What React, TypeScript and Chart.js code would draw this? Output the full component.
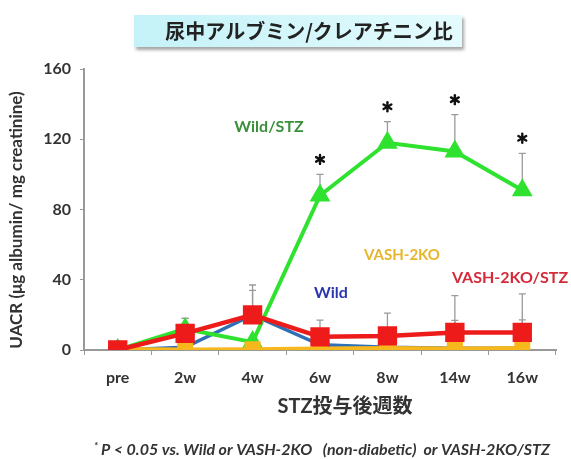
import React, { useEffect, useRef } from "react";
import { Chart, registerables } from "chart.js";

Chart.register(...registerables);

const weeks = ["pre", "2w", "4w", "6w", "8w", "14w", "16w"];
const yTicks = [0, 40, 80, 120, 160];

const wildStz = [0, 12, 4.5, 88, 118, 113, 91];
const wildStzErr = [0, 6, 0, 12, 12, 21, 21];
const vashStz = [0, 9.5, 20, 7.5, 8, 10, 10];
const vashStzErr = [0, 8.5, 17, 9.5, 13, 21, 22];
const wild = [0, 1.5, 20, 3, 1.5, 1, 1];
const wildErr = [0, 0, 14, 4, 0, 0, 0];
const vash = [0.5, 0.3, 0.4, 0.8, 1.2, 0.9, 1.1];
const vashErr = [0, 0, 0, 0, 0, 16, 16];
const significant = [false, false, false, true, true, true, true];

const LAT = "Lato, 'Noto Sans CJK JP', sans-serif";
const JP = "'Noto Sans CJK JP', sans-serif";

const errorBars = {
  id: "errorBars",
  beforeDatasetsDraw(chart: any) {
    const ctx = chart.ctx;
    const y = chart.scales.y;
    ctx.save();
    ctx.strokeStyle = "#9a9a9a";
    ctx.lineWidth = 1.3;
    chart.data.datasets.forEach((ds: any, di: number) => {
      const meta = chart.getDatasetMeta(di);
      const errs = ds.errors || [];
      meta.data.forEach((pt: any, i: number) => {
        const e = errs[i];
        if (!e) return;
        const top = y.getPixelForValue(ds.data[i] + e);
        ctx.beginPath();
        ctx.moveTo(pt.x, pt.y);
        ctx.lineTo(pt.x, top);
        ctx.moveTo(pt.x - 3.5, top);
        ctx.lineTo(pt.x + 3.5, top);
        ctx.stroke();
      });
    });
    ctx.restore();
  },
};

function drawAsterisk(ctx: any, cx: number, cy: number) {
  ctx.save();
  ctx.strokeStyle = "#111";
  ctx.lineWidth = 2.4;
  ctx.lineCap = "round";
  for (let k = 0; k < 3; k++) {
    const a = Math.PI / 2 + (k * Math.PI) / 3;
    const dx = Math.cos(a) * 4.5;
    const dy = Math.sin(a) * 4.5;
    ctx.beginPath();
    ctx.moveTo(cx - dx, cy - dy);
    ctx.lineTo(cx + dx, cy + dy);
    ctx.stroke();
  }
  ctx.restore();
}

const decorations = {
  id: "decorations",
  afterDraw(chart: any) {
    const ctx = chart.ctx;
    const y = chart.scales.y;
    ctx.save();
    // title box
    ctx.save();
    ctx.shadowColor = "rgba(0,0,0,0.35)";
    ctx.shadowOffsetX = 2;
    ctx.shadowOffsetY = 3;
    ctx.shadowBlur = 3;
    const g = ctx.createLinearGradient(134, 0, 462, 0);
    g.addColorStop(0, "#c4f2f8");
    g.addColorStop(1, "#e4fbfd");
    ctx.fillStyle = g;
    ctx.fillRect(134, 15, 328, 32);
    ctx.restore();
    ctx.fillStyle = "#222";
    ctx.font = "bold 20px " + JP;
    ctx.textAlign = "center";
    ctx.textBaseline = "middle";
    ctx.fillText("尿中アルブミン/クレアチニン比", 309, 31);

    // asterisks
    const meta = chart.getDatasetMeta(1);
    significant.forEach((s, i) => {
      if (!s) return;
      const top = y.getPixelForValue(wildStz[i] + wildStzErr[i]);
      drawAsterisk(ctx, meta.data[i].x, top - 15);
    });

    // series labels
    ctx.font = "bold 16px " + LAT;
    ctx.fillStyle = "#3a8f3a";
    ctx.fillText("Wild/STZ", 269, 127);
    ctx.fillStyle = "#e8b52a";
    ctx.font = "bold 15px " + LAT;
    ctx.fillText("VASH-2KO", 402, 255);
    ctx.fillStyle = "#2a35b0";
    ctx.font = "bold 16px " + LAT;
    ctx.fillText("Wild", 331, 293);
    ctx.fillStyle = "#d42a3a";
    ctx.fillText("VASH-2KO/STZ", 510, 278);

    // axis titles
    ctx.fillStyle = "#333";
    ctx.font = "bold 20px " + LAT;
    ctx.fillText("STZ投与後週数", 345, 407);
    ctx.save();
    ctx.translate(17, 220);
    ctx.rotate(-Math.PI / 2);
    ctx.font = "bold 17px " + LAT;
    ctx.fillText("UACR (μg albumin/ mg creatinine)", 0, 0);
    ctx.restore();

    // footnote
    ctx.textAlign = "left";
    ctx.fillStyle = "#333";
    ctx.font = "italic bold 10px " + LAT;
    ctx.fillText("*", 94, 446);
    ctx.font = "italic bold 16px " + LAT;
    ctx.fillText("P < 0.05 vs. Wild or VASH-2KO   (non-diabetic)  or VASH-2KO/STZ", 101, 450);
    ctx.restore();
  },
};

export default function App() {
  const ref = useRef<HTMLCanvasElement>(null);
  useEffect(() => {
    if (!ref.current) return;
    const chart = new Chart(ref.current, {
      type: "line",
      data: {
        labels: weeks,
        datasets: [
          {
            label: "Wild",
            data: wild,
            errors: wildErr,
            borderColor: "#2f6fb5",
            backgroundColor: "#2f6fb5",
            borderWidth: 3.5,
            pointRadius: 3,
            pointStyle: "rect",
            order: 4,
          } as any,
          {
            label: "Wild/STZ",
            data: wildStz,
            errors: wildStzErr,
            borderColor: "#2fe22f",
            backgroundColor: "#2fe22f",
            borderWidth: 4,
            pointRadius: 8,
            pointStyle: "triangle",
            order: 3,
          } as any,
          {
            label: "VASH-2KO",
            data: vash,
            errors: vashErr,
            borderColor: "#f6b81c",
            backgroundColor: "#f6b81c",
            borderWidth: 4,
            pointRadius: 8.5,
            pointStyle: "rect",
            order: 2,
          } as any,
          {
            label: "VASH-2KO/STZ",
            data: vashStz,
            errors: vashStzErr,
            borderColor: "#ee1b1b",
            backgroundColor: "#ee1b1b",
            borderWidth: 4.5,
            pointRadius: 10.5,
            pointStyle: "rect",
            order: 1,
          } as any,
        ],
      },
      options: {
        responsive: false,
        animation: false,
        layout: { padding: { left: 0, top: 69, right: 1, bottom: 0 } },
        plugins: { legend: { display: false }, tooltip: { enabled: false } },
        scales: {
          x: {
            offset: true,
            afterFit: (s: any) => {
              s.height = 109;
            },
            grid: {
              display: true,
              drawOnChartArea: false,
              offset: true,
              tickLength: 5,
              color: "#999",
            },
            border: { color: "#999", width: 2 },
            ticks: {
              color: "#333",
              padding: 13,
              font: { family: LAT, size: 16, weight: "bold" },
            },
          },
          y: {
            min: 0,
            max: 160,
            afterFit: (s: any) => {
              s.width = 84;
            },
            afterBuildTicks: (s: any) => {
              s.ticks = yTicks.map((v) => ({ value: v }));
            },
            grid: {
              display: true,
              drawOnChartArea: false,
              tickLength: 4,
              color: "#999",
            },
            border: { color: "#999", width: 2 },
            ticks: {
              color: "#333",
              padding: 9,
              font: { family: LAT, size: 16, weight: "bold" },
            },
          },
        },
      },
      plugins: [errorBars, decorations],
    } as any);
    return () => chart.destroy();
  }, []);
  return (
    <div style={{ position: "fixed", left: 0, top: 0, width: 571, height: 459, background: "#fff" }}>
      <canvas ref={ref} width={571} height={459} style={{ display: "block" }} />
    </div>
  );
}
